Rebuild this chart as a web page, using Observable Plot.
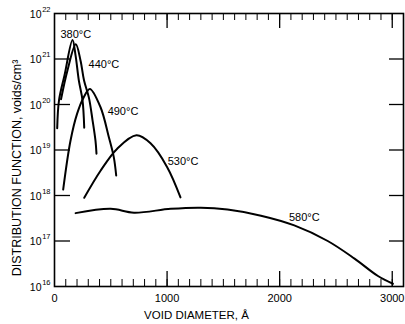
<!DOCTYPE html>
<html>
<head>
<meta charset="utf-8">
<script src="https://cdn.jsdelivr.net/npm/d3@7"></script>
<script src="https://cdn.jsdelivr.net/npm/@observablehq/plot@0.6"></script>
<style>
  html, body { margin: 0; padding: 0; background: #fff; }
  #chart svg { display: block; font-family: "Liberation Sans", Arial, sans-serif; }
</style>
</head>
<body>
<div id="chart"></div>
<script>
// Void diameter (Å) and distribution function (voids/cm^3)
const d380 = [[24, 3.0e19], [40, 1.23e20], [89, 4.4e20], [160, 2.6e21], [187, 1.2e21], [216, 3.4e20], [249, 1.23e20], [264, 3.1e19]];
const d440 = [[58, 1.3e20], [115, 5.6e20], [189, 2.1e21], [231, 9.3e20], [262, 3.4e20], [306, 1.4e20], [338, 4.5e19], [364, 1.6e19], [373, 8.3e18]];
const d490 = [[77, 1.35e18], [142, 1.6e19], [201, 6.3e19], [260, 1.45e20], [314, 2.2e20], [409, 8.7e19], [483, 1.9e19], [527, 6.9e18], [548, 2.75e18]];
const d530 = [[264, 8.9e17], [409, 3.5e18], [557, 1.07e19], [728, 2.1e19], [853, 1.4e19], [1001, 4.2e18], [1119, 9.1e17]];
const d580 = [[187, 4.1e17], [499, 5.1e17], [706, 4.2e17], [1033, 5.1e17], [1300, 5.4e17], [1537, 4.9e17], [1834, 3.6e17], [2130, 2.2e17], [2427, 1.0e17], [2665, 4.1e16], [2873, 1.7e16], [3006, 1.15e16]];

const seriesNames = ["380°C", "440°C", "490°C", "530°C", "580°C"];
const seriesData = [d380, d440, d490, d530, d580];
// label anchor positions (x in Å, y in voids/cm^3)
const labelX = [53, 303, 472, 1006, 2083];
const labelY = [3.5e21, 7.6e20, 7.1e19, 5.6e18, 3.3e17];

const xTickLabels = [0, 1000, 2000, 3000];
const yTickExponents = [16, 17, 18, 19, 20, 21, 22];
const xMinorTicks = d3.range(0, 3101, 100);
const xMajorTicks = [1000, 2000, 3000];
const yInnerTicks = [1e17, 1e18, 1e19, 1e20, 1e21];

const rows = seriesData.flatMap((s, i) => s.map(([x, y]) => ({series: seriesNames[i], x, y})));
const labels = seriesNames.map((name, i) => ({name, x: labelX[i], y: labelY[i]}));

const W = 405, H = 324, mL = 54, mR = 2, mT = 13, mB = 38;
const pw = W - mL - mR, ph = H - mT - mB;

const svg = Plot.plot({
  width: W, height: H,
  marginLeft: mL, marginRight: mR, marginTop: mT, marginBottom: mB,
  style: {fontFamily: "Liberation Sans, Arial, sans-serif", background: "#fff", color: "#000", overflow: "visible"},
  x: {domain: [0, 3100], axis: null},
  y: {type: "log", domain: [1e16, 1e22], axis: null},
  marks: [
    Plot.frame({stroke: "#000", strokeWidth: 1.6}),
    // bottom ticks (inward)
    Plot.tickX(xMinorTicks, {x: d => d, insetTop: ph - 7, stroke: "#000", strokeWidth: 1}),
    Plot.tickX(xMajorTicks, {x: d => d, insetTop: ph - 15, stroke: "#000", strokeWidth: 1.3}),
    // top ticks (inward)
    Plot.tickX(xMinorTicks, {x: d => d, insetBottom: ph - 7, stroke: "#000", strokeWidth: 1}),
    Plot.tickX(xMajorTicks, {x: d => d, insetBottom: ph - 15, stroke: "#000", strokeWidth: 1.3}),
    // left and right ticks (inward)
    Plot.tickY(yInnerTicks, {y: d => d, insetRight: pw - 16, stroke: "#000", strokeWidth: 1.3}),
    Plot.tickY(yInnerTicks, {y: d => d, insetLeft: pw - 14, stroke: "#000", strokeWidth: 1.3}),
    // curves
    Plot.line(rows, {x: "x", y: "y", z: "series", curve: "catmull-rom", stroke: "#000", strokeWidth: 2}),
    // curve labels
    Plot.text(labels, {x: "x", y: "y", text: "name", textAnchor: "start", fontSize: 11, fill: "#000"}),
    // y tick labels: 10 with superscript exponent
    Plot.text(yTickExponents, {y: d => Math.pow(10, d), frameAnchor: "left", text: () => "10", textAnchor: "end", dx: -13, dy: 1, fontSize: 10.5, fill: "#000"}),
    Plot.text(yTickExponents, {y: d => Math.pow(10, d), frameAnchor: "left", text: d => String(d), textAnchor: "end", dx: -4, dy: -4, fontSize: 7.5, fill: "#000"}),
    // x tick labels
    Plot.text(xTickLabels, {x: d => d, frameAnchor: "bottom", text: d => String(d), dy: 15, fontSize: 11, fill: "#000"}),
    // axis titles
    Plot.text(["VOID DIAMETER, Å"], {x: () => 1261, frameAnchor: "bottom", text: d => d, dy: 32, fontSize: 11.5, fill: "#000", ariaLabel: "x-title"}),
    Plot.text(["DISTRIBUTION FUNCTION, voids/cm³"], {frameAnchor: "left", text: d => d, textAnchor: "middle", rotate: -90, dx: -38, dy: 18, fontSize: 12.5, fill: "#000", ariaLabel: "y-title"})
  ]
});

d3.select(svg).select('g[aria-label="x-title"] text').attr("letter-spacing", "1.8px");
d3.select(svg).select('g[aria-label="y-title"] text').attr("letter-spacing", "2.3px");

document.getElementById("chart").appendChild(svg);
</script>
</body>
</html>
